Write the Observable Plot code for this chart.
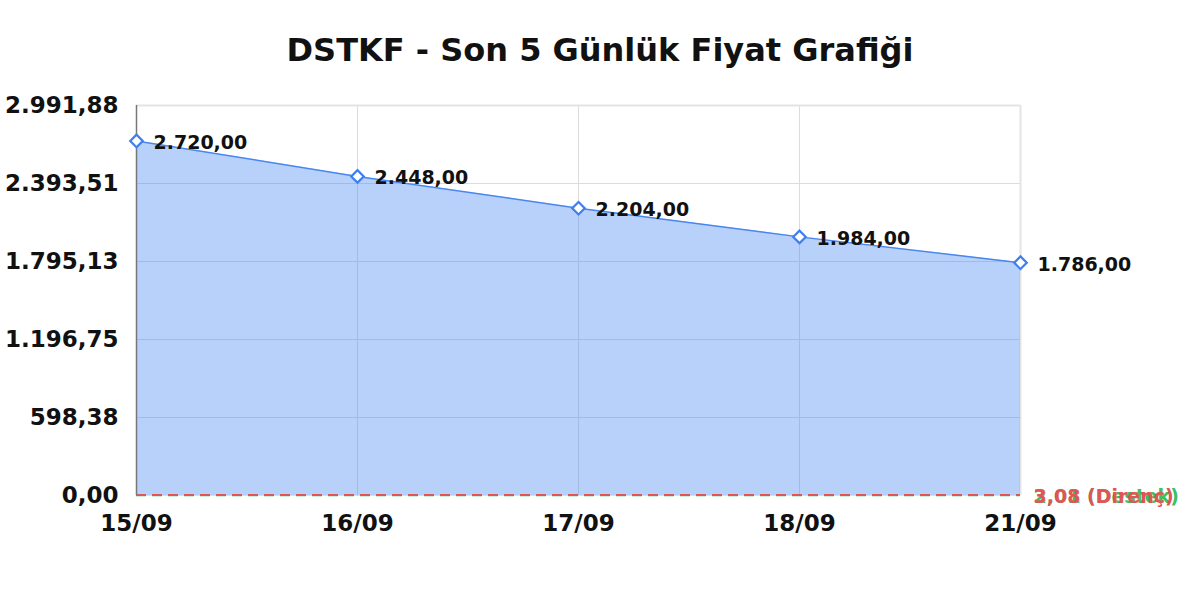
<!DOCTYPE html>
<html><head><meta charset="utf-8">
<script src="https://cdn.jsdelivr.net/npm/d3@7"></script>
<script src="https://cdn.jsdelivr.net/npm/@observablehq/plot@0.6"></script>
<style>
body{margin:0;background:#fff;font-family:"DejaVu Sans",sans-serif;}
#title{height:95px;line-height:100px;text-align:center;font-size:32px;font-weight:bold;color:#111;}
</style></head>
<body>
<div id="title">DSTKF - Son 5 Günlük Fiyat Grafiği</div>
<div id="chart"></div>
<script>
const dates = ["15/09","16/09","17/09","18/09","21/09"];
const prices = [2720.00, 2448.00, 2204.00, 1984.00, 1786.00];
const yTicks = [0, 598.38, 1196.75, 1795.13, 2393.51, 2991.88];
const support = 2.01;
const resistance = 3.08;
const supportLabel = "2,01 (Destek)";
const resistanceLabel = "3,08 (Direnç)";

const loc = d3.formatLocale({decimal: ",", thousands: ".", grouping: [3], currency: ["", ""]});
const fmt = loc.format(",.2f");
const data = dates.map((d, i) => ({date: d, price: prices[i]}));
const yMax = yTicks[yTicks.length - 1];
const last = dates[dates.length - 1];

const chart = Plot.plot({
  width: 1200,
  height: 445,
  marginLeft: 136,
  marginRight: 180,
  marginTop: 10,
  marginBottom: 45,
  style: {fontFamily: "DejaVu Sans, sans-serif", fontWeight: "bold", color: "#111", overflow: "visible"},
  x: {type: "point", domain: dates, padding: 0, label: null},
  y: {domain: [0, yMax], label: null},
  marks: [
    Plot.gridX(dates, {stroke: "#dcdcdc", strokeOpacity: 1}),
    Plot.gridY(yTicks, {stroke: "#dcdcdc", strokeOpacity: 1}),
    Plot.ruleY([yMax], {stroke: "#e4e4e4", strokeWidth: 2}),
    Plot.ruleX([last], {stroke: "#e4e4e4", strokeWidth: 2}),
    Plot.areaY(data, {x: "date", y: "price", fill: "#4285f4", fillOpacity: 0.38}),
    Plot.lineY(data, {x: "date", y: "price", stroke: "#4a86f0", strokeWidth: 1.5}),
    Plot.ruleY([support], {stroke: "#3cc060", strokeWidth: 2, strokeDasharray: "10,6"}),
    Plot.ruleY([resistance], {stroke: "#e05555", strokeWidth: 2, strokeDasharray: "10,6"}),
    Plot.ruleX([dates[0]], {stroke: "#777", strokeWidth: 1.5}),
    Plot.dot(data, {x: "date", y: "price", symbol: "square", rotate: 45, r: 5, stroke: "#3f7ff0", strokeWidth: 2.2, fill: "white"}),
    Plot.text(data, {x: "date", y: "price", text: d => fmt(d.price), dx: 17, dy: 2, textAnchor: "start", fontSize: 19, fontWeight: "bold", fill: "#111"}),
    Plot.text([supportLabel], {x: () => last, y: () => support, text: d => d, dx: 13, dy: 2, textAnchor: "start", fontSize: 19, fontWeight: "bold", fill: "#3cc060"}),
    Plot.text([resistanceLabel], {x: () => last, y: () => resistance, text: d => d, dx: 13, dy: 2, textAnchor: "start", fontSize: 19, fontWeight: "bold", fill: "#e05555"}),
    Plot.axisY(yTicks, {tickFormat: fmt, tickSize: 0, tickPadding: 18, fontSize: 23, fontWeight: "bold", fill: "#111"}),
    Plot.axisX(dates, {tickSize: 0, tickPadding: 19, fontSize: 23, fontWeight: "bold", fill: "#111"})
  ]
});
document.getElementById("chart").appendChild(chart);
</script>
</body></html>
